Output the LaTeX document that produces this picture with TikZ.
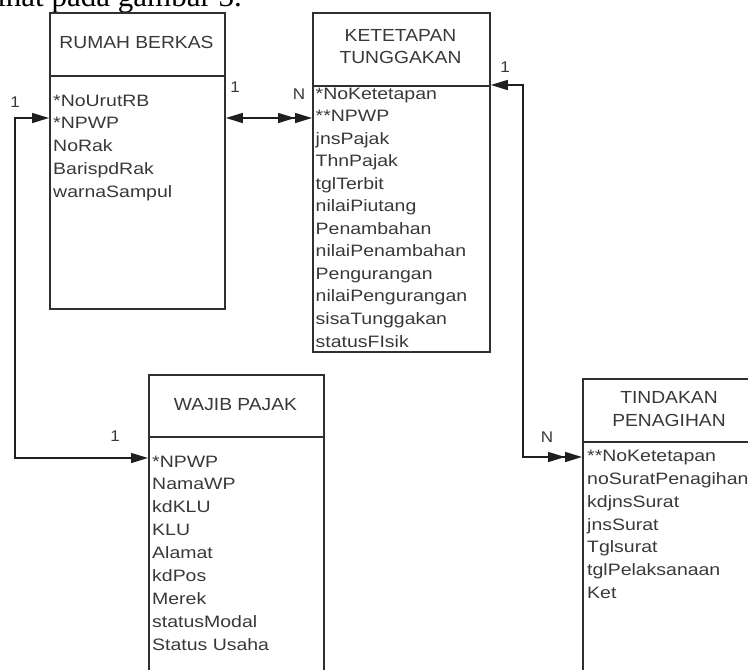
\documentclass[tikz,border=0pt]{standalone}
\usepackage{fontspec}
\setmainfont{Liberation Sans}
\newfontfamily\hdfont[FakeStretch=1.1]{Liberation Sans}
\newfontfamily\atfont[FakeStretch=1.18]{Liberation Sans}
\newfontfamily\capserif{Liberation Serif}
\usetikzlibrary{arrows.meta}
\definecolor{boxline}{HTML}{303030}
\definecolor{txt}{HTML}{383838}
\begin{document}
\begin{tikzpicture}[x=1pt,y=-1pt,
  entity/.style={draw=boxline, line width=1.8pt, inner sep=0pt, anchor=north west},
  head/.style={font=\hdfont\fontsize{17.5}{21}\selectfont, text=txt, inner sep=0pt, anchor=base},
  attr/.style={font=\atfont\fontsize{16.5}{20}\selectfont, text=txt, inner sep=0pt, anchor=base west},
  card/.style={font=\hdfont\fontsize{15.5}{18}\selectfont, text=txt, inner sep=0pt, anchor=center},
  conn/.style={draw=black!88, line width=1.5pt},
  ertip/.tip={Triangle[length=17pt, width=10pt]},
]
\useasboundingbox (0,0) rectangle (748,670);
\clip (0,0) rectangle (748,670);

% cropped caption text at the top
\node[anchor=base east, font=\capserif\fontsize{31}{36}\selectfont, inner sep=0pt] (caption) at (242,6) {lihat pada gambar 3.};

% RUMAH BERKAS
\node[entity, minimum width=175pt, minimum height=63pt] (rbh) at (49,12) {};
\node[entity, minimum width=175pt, minimum height=233pt] (rbb) at (49,75) {};
\node[head] (rbt) at (136.5,48.3) {RUMAH BERKAS};
\foreach \t [count=\i] in {*NoUrutRB,*NPWP,NoRak,BarispdRak,warnaSampul}
  \node[attr] (rb\i) at (53,{106+22.75*(\i-1)}) {\t};

% KETETAPAN TUNGGAKAN
\node[entity, minimum width=177pt, minimum height=73pt] (kth) at (312,12) {};
\node[entity, minimum width=177pt, minimum height=266pt] (ktb) at (312,85) {};
\node[head] (ktt1) at (400.5,41.7) {KETETAPAN};
\node[head] (ktt2) at (400.5,63.3) {TUNGGAKAN};
\foreach \t [count=\i] in {*NoKetetapan,**NPWP,jnsPajak,ThnPajak,tglTerbit,nilaiPiutang,Penambahan,nilaiPenambahan,Pengurangan,nilaiPengurangan,sisaTunggakan,statusFIsik}
  \node[attr] (kt\i) at (315.5,{99+22.55*(\i-1)}) {\t};

% WAJIB PAJAK
\node[entity, minimum width=175pt, minimum height=62pt] (wph) at (148,374) {};
\node[entity, minimum width=175pt, minimum height=260pt] (wpb) at (148,436) {};
\node[head] (wpt) at (235.5,410) {WAJIB PAJAK};
\foreach \t [count=\i] in {*NPWP,NamaWP,kdKLU,KLU,Alamat,kdPos,Merek,statusModal,Status Usaha}
  \node[attr] (wp\i) at (152,{467+22.9*(\i-1)}) {\t};

% TINDAKAN PENAGIHAN
\node[entity, minimum width=174pt, minimum height=63pt] (tph) at (582,378) {};
\node[entity, minimum width=174pt, minimum height=260pt] (tpb) at (582,441) {};
\node[head] (tpt1) at (669,403.3) {TINDAKAN};
\node[head] (tpt2) at (669,426.7) {PENAGIHAN};
\foreach \t [count=\i] in {**NoKetetapan,noSuratPenagihan,kdjnsSurat,jnsSurat,Tglsurat,tglPelaksanaan,Ket}
  \node[attr] (tp\i) at (587,{461.7+22.8*(\i-1)}) {\t};

% bend points
\coordinate (b1) at (15,118);
\coordinate (b2) at (15,458);
\coordinate (c1) at (523,85);
\coordinate (c2) at (523,457);
\coordinate (m1) at (0,118);

% connectors
\draw[conn, {ertip[]}-{ertip[]ertip[]}] (rbb.east |- m1) -- (ktb.west |- m1);
\draw[conn, {ertip[]}-{ertip[]}] (rbb.west |- b1) -- (b1) -- (b2) -- (wpb.west |- b2);
\draw[conn, {ertip[]}-{ertip[]ertip[]}] (ktb.north east) -- (c1) -- (c2) -- (tpb.west |- c2);

% cardinalities
\node[card] (l1) at (235,87.5) {1};
\node[card] (l2) at (299,94.5) {N};
\node[card] (l3) at (15,102) {1};
\node[card] (l4) at (115,436) {1};
\node[card] (l5) at (505,67) {1};
\node[card] (l6) at (547,437) {N};
\end{tikzpicture}
\end{document}
